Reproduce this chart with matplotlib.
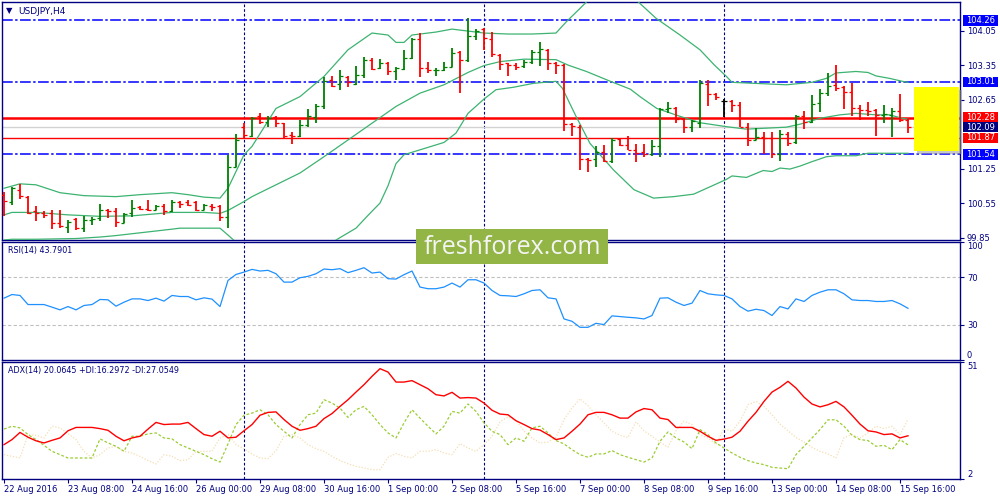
import numpy as np
import matplotlib.pyplot as plt
from matplotlib.patches import Rectangle
import matplotlib.transforms as mtrans

plt.rcParams['font.family'] = ['DejaVu Sans']

# --- data (USDJPY H4, 22 Aug .. 15 Sep 2016) ---
opens = [100.72, 100.58, 100.82, 100.68, 100.38, 100.34, 100.34, 100.14, 100.07, 100.22,
         100.04, 100.21, 100.24, 100.41, 100.38, 100.15, 100.34, 100.47, 100.42, 100.41,
         100.50, 100.38, 100.57, 100.58, 100.57, 100.41, 100.50, 100.48, 100.26, 101.29,
         102.10, 101.91, 102.31, 102.20, 102.29, 102.17, 101.94, 101.92, 102.14, 102.29,
         102.52, 103.04, 102.97, 103.10, 102.97, 103.15, 103.46, 103.29, 103.40, 103.22,
         103.27, 103.49, 103.88, 103.29, 103.24, 103.24, 103.32, 103.61, 103.46, 103.94,
         104.08, 103.88, 103.56, 103.39, 103.35, 103.33, 103.42, 103.62, 103.66, 103.40,
         103.35, 102.16, 102.10, 101.44, 101.44, 101.59, 101.41, 101.85, 101.73, 101.63,
         101.59, 101.55, 101.71, 102.45, 102.47, 102.25, 102.10, 102.18, 102.97, 102.76,
         102.63, 102.63, 102.54, 102.09, 101.83, 101.90, 101.87, 101.55, 101.95, 101.78,
         102.32, 102.20, 102.58, 102.78, 102.95, 102.90, 102.81, 102.47, 102.44, 102.44,
         102.34, 102.34, 102.41, 102.24]
highs = [100.78, 100.88, 100.94, 100.70, 100.49, 100.38, 100.40, 100.40, 100.21, 100.24,
         100.29, 100.26, 100.53, 100.42, 100.44, 100.34, 100.61, 100.48, 100.61, 100.51,
         100.53, 100.61, 100.59, 100.61, 100.60, 100.53, 100.53, 100.51, 101.53, 101.95,
         102.17, 102.29, 102.37, 102.32, 102.32, 102.17, 102.00, 102.24, 102.45, 102.56,
         103.10, 103.12, 103.24, 103.12, 103.33, 103.51, 103.49, 103.47, 103.41, 103.32,
         103.65, 103.90, 104.00, 103.41, 103.29, 103.42, 103.69, 103.64, 104.30, 104.08,
         104.10, 104.03, 103.58, 103.40, 103.39, 103.46, 103.66, 103.81, 103.67, 103.42,
         103.37, 102.17, 102.14, 101.46, 101.70, 101.73, 101.87, 101.87, 101.91, 101.75,
         101.75, 101.83, 102.47, 102.61, 102.49, 102.27, 102.24, 103.05, 103.05, 102.78,
         102.66, 102.64, 102.61, 102.17, 102.07, 102.00, 102.00, 102.03, 102.00, 102.34,
         102.42, 102.75, 102.86, 103.19, 103.35, 102.93, 102.98, 102.54, 102.60, 102.45,
         102.54, 102.47, 102.77, 102.26]
lows = [100.28, 100.51, 100.63, 100.33, 100.19, 100.24, 100.03, 100.05, 99.94, 100.00,
        99.97, 100.10, 100.19, 100.24, 100.07, 100.14, 100.26, 100.40, 100.38, 100.40,
        100.30, 100.36, 100.44, 100.48, 100.38, 100.40, 100.38, 100.19, 100.05, 101.28,
        101.87, 101.90, 102.16, 102.09, 102.09, 101.85, 101.75, 101.90, 102.09, 102.17,
        102.45, 102.90, 102.85, 102.90, 102.94, 103.08, 103.25, 103.27, 103.14, 103.05,
        103.25, 103.48, 103.10, 103.19, 103.13, 103.22, 103.31, 102.79, 103.42, 103.85,
        103.66, 103.51, 103.25, 103.13, 103.25, 103.29, 103.37, 103.33, 103.24, 103.17,
        102.02, 101.91, 101.22, 101.19, 101.29, 101.38, 101.36, 101.70, 101.62, 101.39,
        101.49, 101.51, 101.48, 102.37, 102.17, 101.97, 102.00, 102.07, 102.52, 102.64,
        102.29, 102.39, 102.09, 101.70, 101.82, 101.55, 101.46, 101.41, 101.71, 101.75,
        102.05, 102.18, 102.39, 102.72, 102.83, 102.45, 102.32, 102.24, 102.31, 101.91,
        102.17, 101.90, 102.20, 101.98]
closes = [100.59, 100.85, 100.70, 100.34, 100.34, 100.31, 100.14, 100.09, 100.17, 100.04,
          100.21, 100.23, 100.41, 100.39, 100.17, 100.33, 100.44, 100.43, 100.40, 100.49,
          100.38, 100.57, 100.53, 100.51, 100.41, 100.51, 100.47, 100.26, 101.29, 101.83,
          101.93, 102.27, 102.19, 102.27, 102.17, 101.91, 101.92, 102.14, 102.31, 102.52,
          103.02, 102.93, 103.12, 103.00, 103.15, 103.46, 103.27, 103.39, 103.22, 103.29,
          103.49, 103.88, 103.30, 103.25, 103.25, 103.32, 103.60, 103.46, 103.94, 104.05,
          103.90, 103.58, 103.37, 103.35, 103.32, 103.42, 103.62, 103.67, 103.40, 103.35,
          102.16, 102.12, 101.44, 101.43, 101.59, 101.41, 101.83, 101.72, 101.63, 101.57,
          101.55, 101.70, 102.45, 102.47, 102.25, 102.10, 102.22, 102.98, 102.76, 102.70,
          102.63, 102.54, 102.10, 101.83, 101.90, 101.87, 101.55, 101.95, 101.76, 102.32,
          102.20, 102.56, 102.78, 102.93, 102.88, 102.81, 102.47, 102.43, 102.42, 102.34,
          102.36, 102.41, 102.24, 102.09]

# Bollinger bands (bar position, price); NaN where the band leaves the panel
bb_up_x = [0, 2, 4, 7, 10, 14, 17, 21, 23, 25, 27, 28, 29, 30, 31, 34, 37, 40, 43, 46, 48, 49,
           50, 51, 54, 56, 58, 60, 63, 66, 69, 70.3, 72, 72.8, 76, 79.3, 81.5, 84.5, 87, 88.8,
           90.3, 91, 93.7, 97.8, 101, 102.8, 104, 106.5, 108, 109, 110.7, 112.3, 113]
bb_up = [100.85, 100.94, 100.92, 100.76, 100.70, 100.68, 100.72, 100.76, 100.72, 100.67,
         100.65, 100.85, 101.19, 101.53, 101.70, 102.47, 102.71, 103.12, 103.66, 104.00,
         103.96, 103.81, 103.81, 103.96, 104.02, 104.08, 104.04, 104.00, 103.98, 103.98,
         104.00, 104.23, 104.50, 104.63, np.nan, 104.63, 104.30, 103.96, 103.66, 103.35,
         103.12, 103.00, 102.98, 102.95, 103.00, 103.08, 103.19, 103.22, 103.20, 103.13,
         103.08, 103.02, 103.00]
bb_mid_x = [0, 1, 4, 8, 12, 16, 21, 25, 27, 28, 30, 31, 34, 37, 40, 43, 46, 49, 52, 55, 58,
            60, 62, 65, 69, 70.5, 72.8, 75.8, 78.3, 79.5, 81.6, 84.5, 87, 90.3, 92.8, 95.3,
            97.8, 99.5, 102, 104.5, 106.5, 109, 110.7, 112.3, 113]
bb_mid = [100.31, 100.36, 100.36, 100.31, 100.28, 100.29, 100.36, 100.36, 100.34, 100.40,
          100.58, 100.68, 100.92, 101.16, 101.49, 101.83, 102.17, 102.51, 102.78, 102.95,
          103.20, 103.34, 103.42, 103.47, 103.46, 103.35, 103.22, 103.02, 102.86, 102.71,
          102.47, 102.31, 102.18, 102.10, 102.05, 102.07, 102.09, 102.15, 102.27, 102.34,
          102.37, 102.34, 102.34, 102.27, 102.25]
bb_low_x = [0, 1, 4, 9, 12, 14, 21, 22, 27, 28, 28.7, 35, 41.5, 44, 45.5, 47, 48, 49, 50, 52,
            55, 56.5, 58, 60, 61.5, 63.7, 66.2, 69, 69.8, 71.5, 73.25, 76.2, 78.75, 81.2, 83.7,
            86.2, 88.8, 90.3, 91, 92.8, 94.9, 96, 97, 98.25, 99.5, 101, 102.8, 104, 106.5,
            108, 113]
bb_low = [99.80, 99.815, 99.815, 99.83, 99.86, 99.89, 100.02, 100.04, 100.04, 99.90, 99.80,
          np.nan, 99.80, 100.04, 100.30, 100.55, 100.90, 101.35, 101.53, 101.63, 101.78,
          101.97, 102.37, 102.66, 102.85, 102.90, 102.98, 103.02, 102.88, 102.31, 101.76,
          101.22, 100.82, 100.65, 100.68, 100.73, 100.92, 101.03, 101.10, 101.07, 101.21,
          101.19, 101.26, 101.24, 101.30, 101.39, 101.49, 101.51, 101.51, 101.56, 101.56]

rsi = [52.4, 55.5, 54.7, 47.0, 47.0, 47.0, 44.8, 42.5, 45.3, 42.5, 46.2, 47.0, 51.3, 51.0,
       45.6, 49.0, 51.8, 51.8, 50.4, 52.4, 49.9, 54.7, 53.8, 53.8, 51.0, 52.7, 51.6, 45.3,
       67.4, 72.5, 74.5, 76.8, 75.4, 76.0, 73.1, 66.0, 66.0, 69.7, 70.9, 73.1, 77.1, 76.5,
       77.4, 74.0, 76.0, 78.2, 73.7, 74.5, 68.9, 68.6, 72.3, 75.4, 61.8, 60.4, 60.4, 61.8,
       65.2, 61.8, 68.0, 68.0, 65.2, 58.9, 54.7, 54.4, 53.8, 56.1, 58.9, 59.5, 52.7, 51.8,
       34.8, 32.8, 27.7, 27.7, 31.1, 30.0, 37.4, 36.8, 36.2, 35.7, 34.8, 37.7, 52.4, 52.7,
       49.0, 46.2, 48.2, 58.9, 56.1, 55.2, 54.7, 51.8, 45.3, 41.4, 43.0, 41.9, 37.7, 45.3,
       43.3, 51.8, 49.6, 54.7, 57.5, 59.5, 59.5, 56.1, 51.0, 50.4, 50.4, 49.6, 49.6, 50.4,
       47.6, 43.8]
adx = [16.4, 18.5, 21.5, 19.5, 18.0, 17.1, 18.2, 19.2, 22.2, 23.6, 23.6, 23.6, 23.1, 22.4,
       19.9, 18.0, 19.2, 19.9, 22.9, 25.7, 24.8, 25.0, 25.0, 25.7, 23.1, 20.6, 19.9, 22.0,
       19.2, 19.5, 22.2, 24.8, 28.7, 29.9, 30.1, 26.9, 24.1, 22.4, 23.1, 24.1, 27.3, 29.4,
       32.4, 35.2, 38.4, 41.5, 45.0, 48.2, 46.8, 42.6, 42.6, 43.2, 41.5, 39.8, 37.3, 36.8,
       38.3, 35.9, 36.1, 35.9, 33.8, 30.8, 29.2, 28.9, 26.4, 24.8, 23.1, 22.5, 20.6, 18.5,
       19.2, 22.0, 25.0, 28.9, 29.9, 29.9, 28.9, 27.5, 27.5, 30.1, 31.5, 31.0, 27.5, 26.9,
       23.6, 23.6, 23.6, 22.0, 19.9, 18.2, 18.7, 19.5, 22.0, 26.2, 29.9, 34.5, 38.4, 40.4,
       42.9, 40.1, 36.3, 33.4, 32.2, 33.1, 34.5, 32.2, 28.7, 25.0, 22.2, 21.7, 20.6, 20.9,
       19.2, 20.1]
plus_di = [22.9, 24.1, 23.4, 20.6, 18.5, 16.1, 13.6, 12.2, 10.8, 10.8, 10.8, 10.8, 18.8, 17.1,
           15.7, 13.6, 19.9, 19.9, 20.9, 21.3, 19.2, 18.8, 16.4, 15.0, 13.6, 12.2, 10.5, 9.1,
           16.7, 24.8, 28.7, 29.6, 31.0, 28.9, 24.8, 22.0, 19.2, 24.8, 28.9, 29.6, 35.2, 33.8,
           31.7, 27.8, 31.0, 32.4, 28.9, 24.8, 21.3, 19.2, 25.5, 31.0, 27.5, 24.1, 20.9, 24.1,
           30.3, 29.6, 33.4, 30.3, 25.5, 22.0, 20.6, 16.4, 19.2, 17.8, 23.4, 24.1, 21.3, 18.1,
           16.7, 14.3, 12.2, 11.1, 12.5, 12.5, 13.9, 12.2, 11.1, 10.1, 9.1, 10.8, 17.8, 21.7,
           19.2, 17.5, 14.7, 22.7, 20.6, 17.1, 15.0, 12.9, 11.1, 9.7, 8.7, 8.0, 6.9, 6.6,
           6.3, 12.2, 15.7, 19.2, 22.7, 26.8, 26.8, 24.1, 20.3, 18.5, 18.1, 15.7, 16.1, 14.3,
           18.5, 16.3]
minus_di = [12.2, 11.5, 10.8, 20.6, 20.3, 19.2, 24.1, 23.4, 21.0, 18.5, 13.6, 10.8, 12.2, 15.0,
            15.7, 13.6, 12.9, 11.5, 9.7, 8.3, 12.2, 11.5, 9.7, 10.1, 13.6, 13.6, 13.6, 19.2,
            20.6, 16.4, 14.7, 12.5, 10.8, 10.5, 13.9, 19.9, 20.6, 19.2, 16.4, 14.7, 13.6, 11.5,
            9.7, 8.4, 7.3, 6.6, 5.9, 5.9, 11.1, 12.7, 11.5, 10.8, 13.6, 13.6, 14.3, 12.9,
            12.2, 16.8, 15.0, 13.6, 16.4, 19.9, 25.9, 28.0, 26.6, 22.0, 19.2, 17.1, 17.5, 19.4,
            26.9, 31.7, 35.6, 32.7, 28.9, 25.5, 22.0, 20.3, 19.4, 25.9, 22.2, 19.9, 17.5, 15.3,
            22.2, 26.2, 24.8, 20.6, 19.2, 16.4, 23.1, 22.0, 26.2, 33.1, 34.5, 32.4, 28.9, 25.0,
            22.2, 19.4, 17.5, 15.3, 13.6, 12.5, 10.8, 19.4, 20.6, 19.2, 21.3, 24.1, 23.1, 24.1,
            20.6, 27.05]

time_labels = ['22 Aug 2016', '23 Aug 08:00', '24 Aug 16:00', '26 Aug 00:00', '29 Aug 08:00',
               '30 Aug 16:00', '1 Sep 00:00', '2 Sep 08:00', '5 Sep 16:00', '7 Sep 00:00',
               '8 Sep 08:00', '9 Sep 16:00', '13 Sep 00:00', '14 Sep 08:00', '15 Sep 16:00']
label_bars = list(range(0, 113, 8))
week_starts = [30, 60, 90]

blue_levels = [104.26, 103.01, 101.54]
red_levels = [102.28, 101.87]
bid = 102.09
price_ticks = [104.05, 103.35, 102.65, 101.25, 100.55, 99.85]
zone = (113.75, 119.4, 101.61, 102.91)   # target box: x0, x1, y0, y1

NAVY = '#000080'
UP, DOWN = '#008000', '#FF0000'
BAND = '#3CB371'

W, H = 1000, 500
fig = plt.figure(figsize=(W / 100, H / 100), dpi=100)
fig.patch.set_facecolor('white')


def px_axes(x0, y0, x1, y1):
    return fig.add_axes([x0 / W, 1 - y1 / H, (x1 - x0) / W, (y1 - y0) / H])


ax = px_axes(2, 2, 960, 240)
ax_rsi = px_axes(2, 242, 960, 360)
ax_adx = px_axes(2, 362, 960, 479)

XMIN, XMAX = -0.25, 119.5
for a in (ax, ax_rsi, ax_adx):
    a.set_xlim(XMIN, XMAX)
    for s in a.spines.values():
        s.set_color(NAVY)
        s.set_linewidth(1.0)
    a.yaxis.tick_right()
    a.tick_params(axis='y', direction='out', length=3, width=0.8, colors=NAVY,
                  labelsize=6, pad=2)
    for wx in week_starts:
        a.axvline(wx, color=NAVY, lw=0.8, ls=(0, (2.4, 1.8)), zorder=1)

# ---- price panel ----
ax.set_ylim(99.80, 104.63)
ax.set_xticks([])
ax.set_yticks(price_ticks)
ax.set_yticklabels([f'{v:.2f}' for v in price_ticks])

for v in blue_levels:
    ax.axhline(v, color='#0000FF', lw=1.1, ls=(0, (7, 1.6, 1.6, 1.6)), zorder=2)
ax.axhline(bid, color='#D3D3D3', lw=1.0, zorder=2)
ax.axhline(red_levels[0], color='#FF0000', lw=1.8, zorder=2)
ax.axhline(red_levels[1], color='#FF0000', lw=1.0, zorder=2)

ax.plot(bb_up_x, bb_up, color=BAND, lw=0.9, zorder=3)
ax.plot(bb_mid_x, bb_mid, color=BAND, lw=0.9, zorder=3)
ax.plot(bb_low_x, bb_low, color=BAND, lw=0.9, zorder=3)

o = np.array(opens)
hi = np.array(highs)
lo = np.array(lows)
c = np.array(closes)
idx = np.arange(len(o))
cols = np.where(c > o, UP, np.where(c < o, DOWN, 'black'))
ax.vlines(idx, lo, hi, colors=cols, lw=1.3, zorder=4)
ax.hlines(o, idx - 0.4, idx, colors=cols, lw=0.9, zorder=4)
ax.hlines(c, idx, idx + 0.4, colors=cols, lw=0.9, zorder=4)

# yellow target zone with soft shadow
zx0, zx1, zy0, zy1 = zone
ax.add_patch(Rectangle((zx0 + 0.4, zy0 - 0.06), zx1 - zx0, zy1 - zy0, facecolor='#9A9A9A',
                       alpha=0.55, edgecolor='none', zorder=5, clip_on=False))
ax.add_patch(Rectangle((zx0, zy0), zx1 - zx0, zy1 - zy0, facecolor='#FFFF00',
                       edgecolor='none', zorder=6))

# price boxes on the right scale
bt = mtrans.blended_transform_factory(ax.transAxes, ax.transData)
boxes = [(104.26, '#0000FF'), (103.01, '#0000FF'), (102.28, '#FF0000'),
         (bid, NAVY), (101.87, '#FF0000'), (101.54, '#0000FF')]
for v, col in boxes:
    ax.add_patch(Rectangle((1.0031, v - 0.108), 0.0366, 0.216, transform=bt,
                           facecolor=col, edgecolor='none', clip_on=False, zorder=7))
    ax.text(1.0214, v, f'{v:.2f}', transform=bt, color='white', fontsize=6,
            ha='center', va='center', clip_on=False, zorder=8)

fig.text(6 / W, 1 - 11 / H, '\u25BC', color=NAVY, fontsize=6, va='center')
fig.text(18 / W, 1 - 11 / H, 'USDJPY,H4', color=NAVY, fontsize=6.5, va='center')

# ---- RSI panel ----
ax_rsi.set_ylim(0, 100)
ax_rsi.set_xticks([])
ax_rsi.axhline(70, color='#C0C0C0', lw=0.8, ls=(0, (3, 2)))
ax_rsi.axhline(30, color='#C0C0C0', lw=0.8, ls=(0, (3, 2)))
ax_rsi.plot(idx, rsi, color='#1E90FF', lw=0.9, zorder=3)
ax_rsi.set_yticks([100, 70, 30, 0])
ax_rsi.set_yticklabels(['100', '70', '30', '0'])
rl = ax_rsi.get_yticklabels()
rl[0].set_va('top')
rl[-1].set_va('bottom')
fig.text(8 / W, 1 - 251 / H, 'RSI(14) 43.7901', color=NAVY, fontsize=5.8, va='center')

# ---- ADX panel ----
ax_adx.set_ylim(2, 51)
ax_adx.plot(idx, minus_di, color='#F5DEB3', lw=0.9, ls=(0, (1, 1.4)), zorder=2)
ax_adx.plot(idx, plus_di, color='#9ACD32', lw=0.9, ls=(0, (2.2, 1.6)), zorder=3)
ax_adx.plot(idx, adx, color='#FF0000', lw=1.0, zorder=4)
ax_adx.set_yticks([51, 2])
ax_adx.set_yticklabels(['51', '2'])
al = ax_adx.get_yticklabels()
al[0].set_va('top')
al[1].set_va('bottom')
fig.text(8 / W, 1 - 371 / H, 'ADX(14) 20.0645 +DI:16.2972 -DI:27.0549', color=NAVY,
         fontsize=5.8, va='center')

ax_adx.set_xticks(label_bars)
ax_adx.set_xticklabels(time_labels, ha='left')
ax_adx.tick_params(axis='x', direction='out', length=3, width=0.8, colors=NAVY,
                   labelsize=6, pad=1.5)

# ---- watermark ----
fig.add_artist(Rectangle((416 / W, 1 - 264 / H), 192 / W, 35 / H, transform=fig.transFigure,
                         facecolor='#92B545', edgecolor='none', zorder=20))
fig.text(512 / W, 1 - 247 / H, 'freshforex.com', color='#F4F4F4', fontsize=18,
         family=['Open Sans', 'DejaVu Sans'], ha='center', va='center', zorder=21)

fig.savefig('out.png', dpi=100)
